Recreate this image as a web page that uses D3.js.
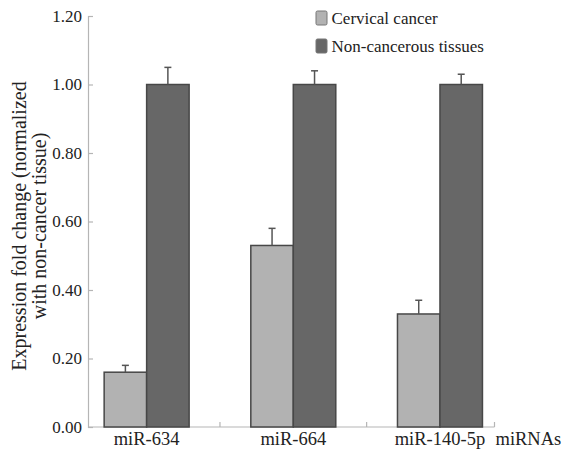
<!DOCTYPE html>
<html>
<head>
<meta charset="utf-8">
<script src="https://cdn.jsdelivr.net/npm/d3@7"></script>
<style>
  body { margin: 0; background: #fff; }
</style>
</head>
<body>
<div id="chart"></div>
<script>
var categories = ["miR-634", "miR-664", "miR-140-5p"];
var seriesNames = ["Cervical cancer", "Non-cancerous tissues"];
var cancerValues = [0.16, 0.53, 0.33];
var cancerErrors = [0.02, 0.05, 0.04];
var normalValues = [1.00, 1.00, 1.00];
var normalErrors = [0.05, 0.04, 0.03];
var yTicks = [0, 0.2, 0.4, 0.6, 0.8, 1.0, 1.2];

var width = 563, height = 450;
var fills = ["#b2b2b2", "#676767"];
var serif = "'Liberation Serif'";

var svg = d3.select("#chart").append("svg")
    .attr("width", width)
    .attr("height", height);

var y = d3.scaleLinear().domain([0, 1.2]).range([427, 16]);
var x0 = d3.scaleBand().domain(categories).range([73.3, 513.3]);
var x1 = d3.scaleBand().domain(seriesNames).range([0, x0.bandwidth()]).paddingOuter(0.726);

var axisLeftX = 88, axisRightX = 494.5;
var axisColor = "#b5b5b5";

// y axis
var yAxis = svg.append("g")
    .attr("transform", "translate(" + axisLeftX + ",0)")
    .call(d3.axisLeft(y).tickValues(yTicks).tickSize(-5).tickPadding(6)
        .tickFormat(d3.format(".2f")));
yAxis.attr("font-family", null);
yAxis.select(".domain").attr("stroke", axisColor).attr("stroke-width", 1.2);
yAxis.selectAll(".tick line").attr("stroke", axisColor).attr("stroke-width", 1.2);
yAxis.selectAll(".tick text")
    .style("font-family", serif)
    .attr("font-size", 17)
    .attr("fill", "#222");

// x axis line and ticks
svg.append("line")
    .attr("x1", axisLeftX).attr("x2", axisRightX)
    .attr("y1", y(0)).attr("y2", y(0))
    .attr("stroke", axisColor).attr("stroke-width", 1.2);

var xTickPos = categories.slice(0, 2).map(function(c) { return x0(c) + x0.bandwidth(); });
xTickPos.push(axisRightX);
svg.selectAll(".xtick")
    .data(xTickPos)
    .enter().append("line")
    .attr("class", "xtick")
    .attr("x1", function(d) { return d; })
    .attr("x2", function(d) { return d; })
    .attr("y1", y(0)).attr("y2", y(0) - 5)
    .attr("stroke", axisColor).attr("stroke-width", 1.2);

svg.selectAll(".xlabel")
    .data(categories)
    .enter().append("text")
    .attr("class", "xlabel")
    .attr("x", function(d) { return x0(d) + x0.bandwidth() / 2; })
    .attr("y", 445)
    .attr("text-anchor", "middle")
    .style("font-family", serif)
    .attr("font-size", 18.5)
    .attr("fill", "#222")
    .text(function(d) { return d; });

svg.append("text")
    .attr("x", axisRightX + 1)
    .attr("y", 445)
    .style("font-family", serif)
    .attr("font-size", 18.5)
    .attr("fill", "#222")
    .text("miRNAs");

// bars
var series = [
    { name: seriesNames[0], values: cancerValues, errors: cancerErrors, fill: fills[0] },
    { name: seriesNames[1], values: normalValues, errors: normalErrors, fill: fills[1] }
];

series.forEach(function(s) {
    var g = svg.append("g");
    g.selectAll("rect")
        .data(categories)
        .enter().append("rect")
        .attr("x", function(d) { return x0(d) + x1(s.name); })
        .attr("y", function(d, i) { return y(s.values[i]); })
        .attr("width", x1.bandwidth())
        .attr("height", function(d, i) { return y(0) - y(s.values[i]); })
        .attr("fill", s.fill)
        .attr("stroke", "#474747")
        .attr("stroke-width", 1.5);

    // error bars (upper only)
    var eb = g.selectAll(".err")
        .data(categories)
        .enter().append("g");
    eb.append("line")
        .attr("x1", function(d) { return x0(d) + x1(s.name) + x1.bandwidth() / 2; })
        .attr("x2", function(d) { return x0(d) + x1(s.name) + x1.bandwidth() / 2; })
        .attr("y1", function(d, i) { return y(s.values[i]); })
        .attr("y2", function(d, i) { return y(s.values[i] + s.errors[i]); })
        .attr("stroke", "#555").attr("stroke-width", 1.5);
    eb.append("line")
        .attr("x1", function(d) { return x0(d) + x1(s.name) + x1.bandwidth() / 2 - 3.5; })
        .attr("x2", function(d) { return x0(d) + x1(s.name) + x1.bandwidth() / 2 + 3.5; })
        .attr("y1", function(d, i) { return y(s.values[i] + s.errors[i]); })
        .attr("y2", function(d, i) { return y(s.values[i] + s.errors[i]); })
        .attr("stroke", "#555").attr("stroke-width", 1.5);
});

// y axis title
var title = svg.append("text")
    .attr("transform", "translate(26,226) rotate(-90)")
    .attr("text-anchor", "middle")
    .style("font-family", serif)
    .attr("font-size", 20)
    .attr("fill", "#222");
title.append("tspan").attr("x", 0).attr("y", 0).text("Expression fold change (normalized");
title.append("tspan").attr("x", 0).attr("y", 20).text("with non-cancer tissue)");

// legend
var legend = svg.selectAll(".legend")
    .data(series)
    .enter().append("g")
    .attr("class", "legend")
    .attr("transform", function(d, i) { return "translate(316," + (11 + i * 28) + ")"; });
legend.append("rect")
    .attr("width", 11).attr("height", 14)
    .attr("rx", 1.5)
    .attr("fill", function(d) { return d.fill; })
    .attr("stroke", "#777").attr("stroke-width", 1);
legend.append("text")
    .attr("x", 15.5).attr("y", 13)
    .style("font-family", serif)
    .attr("font-size", 17)
    .attr("fill", "#222")
    .text(function(d) { return d.name; });
</script>
</body>
</html>
